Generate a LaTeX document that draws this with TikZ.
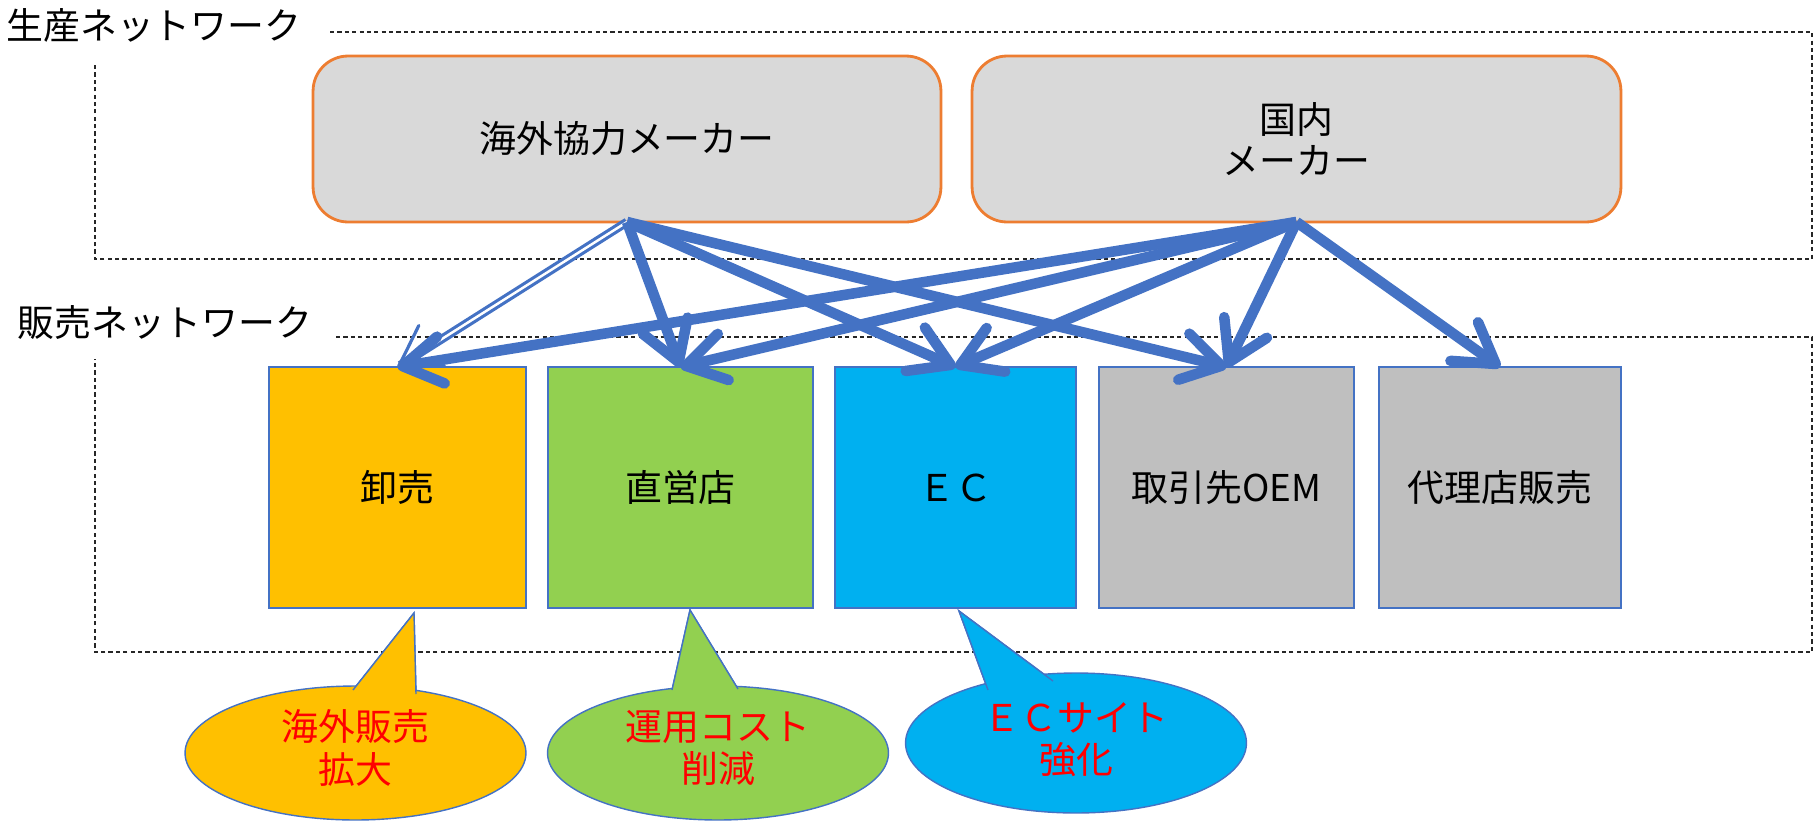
\documentclass[tikz,border=0pt]{standalone}
\usepackage{fontspec}
\setmainfont{Noto Sans CJK JP}
\usetikzlibrary{arrows.meta,shapes.geometric}
\definecolor{borange}{HTML}{ED7D31}
\definecolor{bblue}{HTML}{4472C4}
\definecolor{lgray}{HTML}{D9D9D9}
\definecolor{mgray}{HTML}{BFBFBF}
\definecolor{cyel}{HTML}{FFC000}
\definecolor{cgreen}{HTML}{92D050}
\definecolor{ccyan}{HTML}{00B0F0}
\begin{document}
\begin{tikzpicture}[x=0.02cm,y=-0.02cm,
  txt/.style={font=\fontsize{21}{24}\selectfont},
  lbl/.style={txt, anchor=west, inner sep=0pt},
  frame/.style={draw=black!85, line width=0.8pt, dash pattern=on 2.4pt off 1.8pt},
  maker/.style={txt, draw=borange, fill=lgray, line width=1.6pt, rounded corners=0.7cm,
                minimum height=3.32cm, align=center, outer sep=0pt, inner sep=0pt},
  chan/.style={txt, draw=bblue, line width=0.8pt, minimum height=4.82cm, outer sep=0pt, inner sep=0pt},
  link/.style={draw=bblue, line width=6pt, -{Straight Barb[length=22pt,width=27pt,round]}},
  dlink/.style={draw=bblue, line width=1.8pt, double=white, double distance=1.4pt,
                -{Straight Barb[length=22pt,width=27pt,round]}},
  call/.style={txt, ellipse, draw=bblue, line width=0.8pt, align=center, text=red,
               inner sep=0pt, outer sep=0pt},
  tail/.style={draw=bblue, line width=0.8pt, line join=miter},
]
\useasboundingbox (0,0) rectangle (1816,822);

% frames
\draw[frame] (330,32) -| (1812,259) -| (95,64);
\draw[frame] (336,337) -| (1812,652) -| (95,359);
\node[lbl] (prodlbl) at (6,25) {生産ネットワーク};
\node[lbl] (salelbl) at (17,323) {販売ネットワーク};

% makers
\node[maker, minimum width=12.56cm] (kaigai) at (627,139) {海外協力メーカー};
\node[maker, minimum width=12.98cm] (kokunai) at (1296.5,139) {国内\\[-1pt]メーカー};

% channels
\node[chan, fill=cyel, minimum width=5.14cm] (oroshi) at (397.5,487.5) {卸売};
\node[chan, fill=cgreen, minimum width=5.30cm] (chokuei) at (680.5,487.5) {直営店};
\node[chan, fill=ccyan, minimum width=4.82cm] (ec) at (955.5,487.5) {ＥＣ};
\node[chan, fill=mgray, minimum width=5.10cm] (oem) at (1226.5,487.5) {取引先OEM};
\node[chan, fill=mgray, minimum width=4.84cm] (dairi) at (1500,487.5) {代理店販売};

% callouts
\coordinate (t1) at (414,613);
\coordinate (t1a) at (353,690);
\coordinate (t1b) at (416,694);
\coordinate (t2) at (690,610);
\coordinate (t2a) at (672,690);
\coordinate (t2b) at (738,689);
\coordinate (t3) at (959,611);
\coordinate (t3a) at (988,690);
\coordinate (t3b) at (1053,681);

\filldraw[tail, fill=cyel] (t1a) -- (t1) -- (t1b);
\node[call, fill=cyel, minimum width=6.82cm, minimum height=2.68cm] (c1) at (355.5,753) {};
\fill[cyel] (t1a) -- (t1) -- (t1b) -- cycle;
\draw[tail] (t1a) -- (t1) -- (t1b);
\node[txt, text=red, align=center] (c1t) at (355.5,748) {海外販売\\拡大};

\filldraw[tail, fill=cgreen] (t2a) -- (t2) -- (t2b);
\node[call, fill=cgreen, minimum width=6.82cm, minimum height=2.68cm] (c2) at (718,753) {};
\fill[cgreen] (t2a) -- (t2) -- (t2b) -- cycle;
\draw[tail] (t2a) -- (t2) -- (t2b);
\node[txt, text=red, align=center] (c2t) at (718,748) {運用コスト\\削減};

\filldraw[tail, fill=ccyan] (t3a) -- (t3) -- (t3b);
\node[call, fill=ccyan, minimum width=6.82cm, minimum height=2.8cm] (c3) at (1076,743) {};
\fill[ccyan] (t3a) -- (t3) -- (t3b) -- cycle;
\draw[tail] (t3a) -- (t3) -- (t3b);
\node[txt, text=red, align=center] (c3t) at (1076,740) {ＥＣサイト\\強化};

% arrows
\draw[dlink] (kaigai.south) -- (oroshi.north);
\draw[link] (kaigai.south) -- (chokuei.north);
\draw[link] (kaigai.south) -- (ec.north);
\draw[link] (kaigai.south) -- (oem.north);
\draw[link] (kokunai.south) -- (oroshi.north);
\draw[link] (kokunai.south) -- (chokuei.north);
\draw[link] (kokunai.south) -- (ec.north);
\draw[link] (kokunai.south) -- (oem.north);
\draw[link] (kokunai.south) -- (dairi.north);
\end{tikzpicture}
\end{document}
